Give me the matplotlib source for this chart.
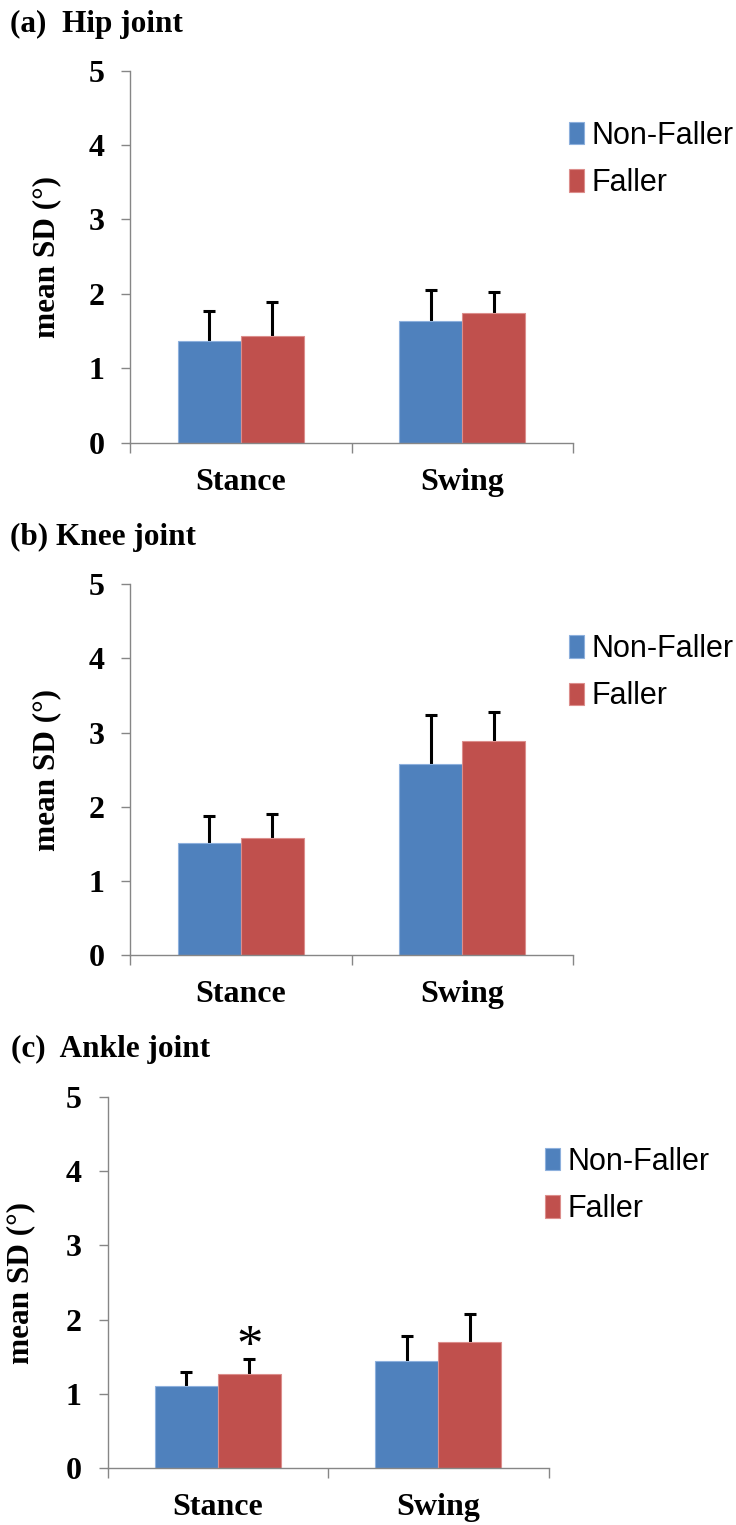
import numpy as np
import matplotlib
matplotlib.use("Agg")
import matplotlib.pyplot as plt

phases = ["Stance", "Swing"]
groups = ["Non-Faller", "Faller"]

# (a) hip
hip_nf = [1.37, 1.63]
hip_nf_sd = [0.40, 0.42]
hip_f = [1.44, 1.75]
hip_f_sd = [0.45, 0.28]

# (b) knee
knee_nf = [1.51, 2.58]
knee_nf_sd = [0.37, 0.66]
knee_f = [1.575, 2.89]
knee_f_sd = [0.325, 0.38]

# (c) ankle
ankle_nf = [1.11, 1.45]
ankle_nf_sd = [0.19, 0.33]
ankle_f = [1.265, 1.70]
ankle_f_sd = [0.21, 0.38]

titles = ["(a)  Hip joint", "(b) Knee joint", "(c)  Ankle joint"]

blue = "#4F81BD"
red = "#C0504D"
serif = ["Liberation Serif", "DejaVu Serif"]
sans = ["Liberation Sans", "DejaVu Sans"]

W, H = 736, 1525
fig = plt.figure(figsize=(W / 100, H / 100), dpi=100)

# axes boxes in pixels: left, right, top, bottom
boxes = [(130, 573, 70.7, 442.7),
         (130, 573, 584, 955.3),
         (107.5, 548.6, 1096.7, 1468.3)]
title_pos = [(10, 32), (10, 545), (11, 1057)]
ylab_x = [-0.156, -0.156, -0.163]

data = [(hip_nf, hip_nf_sd, hip_f, hip_f_sd),
        (knee_nf, knee_nf_sd, knee_f, knee_f_sd),
        (ankle_nf, ankle_nf_sd, ankle_f, ankle_f_sd)]

bw = 0.285
x = np.arange(len(phases))


def upper_err(ax, xs, means, sds):
    means = np.array(means)
    tops = means + np.array(sds)
    ax.vlines(xs, means, tops, color="black", linewidth=2.2, zorder=1)
    ax.plot(xs, tops, linestyle="none", marker="_", markersize=9,
            markeredgewidth=2.2, color="black", zorder=1)


for i, (nf, nf_sd, f, f_sd) in enumerate(data):
    l, r, t, b = boxes[i]
    ax = fig.add_axes([l / W, 1 - b / H, (r - l) / W, (b - t) / H])
    ax.bar(x - bw / 2, nf, bw, color=blue, edgecolor="#8DB0DD", linewidth=0.8,
           label=groups[0], zorder=2)
    ax.bar(x + bw / 2, f, bw, color=red, edgecolor="#DC8E8C", linewidth=0.8,
           label=groups[1], zorder=2)
    upper_err(ax, x - bw / 2, nf, nf_sd)
    upper_err(ax, x + bw / 2, f, f_sd)

    ax.set_xlim(-0.5, 1.5)
    ax.set_ylim(0, 5)
    ax.set_yticks([0, 1, 2, 3, 4, 5])
    ax.set_yticklabels(["0", "1", "2", "3", "4", "5"], fontfamily=serif,
                       fontweight="bold", fontsize=23)
    ax.set_xticks([-0.5, 0.5, 1.5])
    ax.set_xticklabels([])
    ax.set_xticks(x, minor=True)
    ax.set_xticklabels(phases, minor=True, fontfamily=serif, fontweight="bold",
                       fontsize=23)
    ax.tick_params(axis="x", which="minor", length=0, pad=18)
    ax.tick_params(axis="x", which="major", direction="out", length=7,
                   color="#868686", width=1)
    ax.tick_params(axis="y", direction="out", length=6.5, color="#868686",
                   width=1, pad=12)
    for s in ["top", "right"]:
        ax.spines[s].set_visible(False)
    for s in ["left", "bottom"]:
        ax.spines[s].set_color("#868686")
        ax.spines[s].set_linewidth(1)

    ax.set_ylabel("mean SD (°)", fontfamily=serif, fontweight="bold", fontsize=22.5)
    ax.yaxis.set_label_coords(ylab_x[i], 0.5)

    ax.legend(loc="upper left", bbox_to_anchor=(0.991, 0.865), frameon=False,
              borderpad=0, borderaxespad=0, handlelength=0.5, handleheight=0.75,
              handletextpad=0.25, labelspacing=0.565,
              prop={"family": sans, "size": 22})

    tx, ty = title_pos[i]
    fig.text(tx / W, 1 - ty / H, titles[i], fontfamily=serif, fontweight="bold",
             fontsize=22.5, va="baseline", ha="left")

    if i == 2:
        ax.text(x[0] + bw / 2, 1.62, "*", fontfamily=serif, fontsize=38,
                ha="center", va="center")

fig.savefig("out.png", dpi=100)
